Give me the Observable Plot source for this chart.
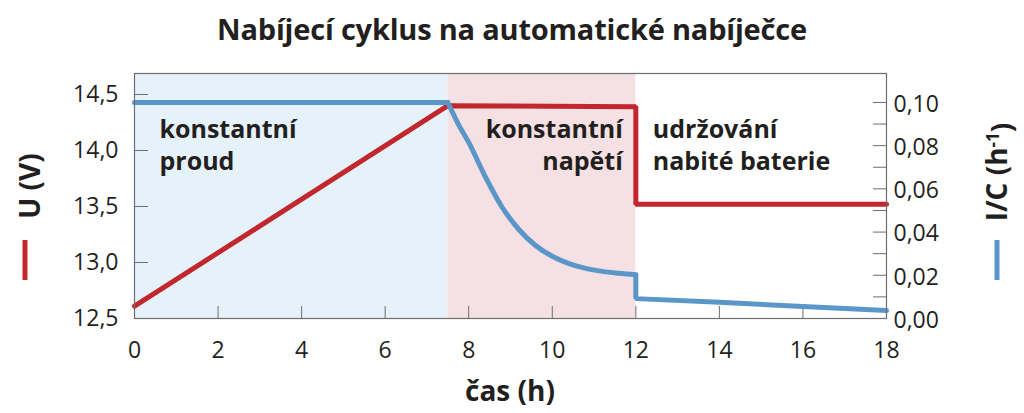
<!DOCTYPE html>
<html><head><meta charset="utf-8">
<script src="https://cdn.jsdelivr.net/npm/d3@7"></script>
<script src="https://cdn.jsdelivr.net/npm/@observablehq/plot@0.6"></script>
<style>
body{margin:0;background:#fff;font-family:"Open Sans",sans-serif;}
#title{height:60px;line-height:58px;text-align:center;font-weight:700;font-size:29px;color:#231f20;letter-spacing:-0.2px;}
#chart svg{display:block;}
</style></head><body>
<div id="title">Nabíjecí cyklus na automatické nabíječce</div>
<div id="chart"></div>
<script>
// Voltage U (V) over time
const hoursU = [0, 7.5, 12, 12, 18];
const voltage = [12.61, 14.40, 14.39, 13.52, 13.52];
// Relative current I/C (1/h) over time
const hoursI = [0, 7.5, 7.75, 8.0, 8.4, 8.8, 9.2, 9.6, 10.0, 10.4, 10.8, 11.2, 11.6, 12.0, 12.0, 14, 16, 18];
const current = [0.100, 0.100, 0.090, 0.0815, 0.0655, 0.0515, 0.0412, 0.0338, 0.0288, 0.0254, 0.0232, 0.0218, 0.0209, 0.0202, 0.0092, 0.0075, 0.0056, 0.0037];
// Phases
const phaseStart = [0, 7.5, 12];
const phaseEnd = [7.5, 12, 18];
const phaseLabel = ["konstantní\nproud", "konstantní\nnapětí", "udržování\nnabité baterie"];
// Ticks
const xTicks = [0, 2, 4, 6, 8, 10, 12, 14, 16, 18];
const uTicks = [12.5, 13.0, 13.5, 14.0, 14.5];
const icTicks = [0, 0.02, 0.04, 0.06, 0.08, 0.10];
const icMinorTicks = [0.01, 0.02, 0.03, 0.04, 0.05, 0.06, 0.07, 0.08, 0.09, 0.10];

const uDomain = [12.5, 14.6875];
const icDomain = [0, 0.1134];
const toV = d3.scaleLinear(icDomain, uDomain);

const phaseFill = ["#e6f2fa", "#f5e1e3", "#ffffff"];
const red = "#c1272d", blue = "#5b96c9", axisGray = "#6d6e71", ink = "#231f20";
const idx = a => a.map((_, i) => i);
const iI = idx(hoursI);
const decayEnd = hoursI.indexOf(12);   // last point before the step down
const flatEnd = hoursI.indexOf(7.5);

const blueLine = (sel, curve) => Plot.line(sel, {x: i => hoursI[i], y: i => toV(current[i]), stroke: blue, strokeWidth: 5, strokeLinejoin: "miter", strokeLinecap: "round", curve});
const labelOpts = {frameAnchor: "top", lineAnchor: "top", dy: 41, fontSize: 25, fontWeight: 700, lineHeight: 1.3, fill: ink};

const chart = Plot.plot({
  width: 1024, height: 353,
  marginTop: 13, marginBottom: 95, marginLeft: 134, marginRight: 138,
  style: {fontFamily: '"Open Sans", sans-serif', fontSize: "23px", color: ink, background: "transparent"},
  x: {domain: [0, 18], label: null},
  y: {domain: uDomain, label: null},
  marks: [
    Plot.rect([0, 1], {x1: i => phaseStart[i], x2: i => phaseEnd[i], fill: i => phaseFill[i]}),
    Plot.axisX(xTicks, {anchor: "top", frameAnchor: "bottom", tickSize: 13, fill: "none", stroke: axisGray, label: null}),
    Plot.axisX(xTicks, {anchor: "bottom", tickSize: 0, tickPadding: 23, stroke: "none", label: null, fontSize: 23}),
    Plot.axisY(uTicks.slice(1), {anchor: "right", frameAnchor: "left", tickSize: 13, fill: "none", stroke: axisGray, label: null}),
    Plot.axisY(uTicks, {anchor: "left", tickSize: 0, tickPadding: 16, stroke: "none", label: null, fontSize: 23,
      tickFormat: d => d.toFixed(1).replace(".", ",")}),
    Plot.axisY(icMinorTicks.map(toV), {anchor: "left", frameAnchor: "right", tickSize: 13, fill: "none", stroke: axisGray, label: null}),
    Plot.axisY(icTicks.map(toV), {anchor: "right", tickSize: 0, tickPadding: 7, stroke: "none", label: null, fontSize: 23, dy: 2,
      tickFormat: v => toV.invert(v).toFixed(2).replace(".", ",")}),
    Plot.line(idx(hoursU), {x: i => hoursU[i], y: i => voltage[i], stroke: red, strokeWidth: 5, strokeLinejoin: "miter"}),
    blueLine(iI.slice(0, flatEnd + 1), "linear"),
    blueLine(iI.slice(flatEnd, decayEnd + 1), "monotone-x"),
    blueLine(iI.slice(decayEnd), "linear"),
    Plot.frame({stroke: axisGray, strokeWidth: 1.2}),
    Plot.text([0], {...labelOpts, x: () => phaseStart[0], text: () => phaseLabel[0], textAnchor: "start", dx: 25}),
    Plot.text([1], {...labelOpts, x: () => phaseEnd[1], text: () => phaseLabel[1], textAnchor: "end", dx: -13}),
    Plot.text([2], {...labelOpts, x: () => phaseStart[2], text: () => phaseLabel[2], textAnchor: "start", dx: 17})
  ]
});
document.getElementById("chart").appendChild(chart);

// Axis titles and legend swatches
const svg = d3.select(chart);
svg.append("text").attr("transform", "translate(30,126) rotate(-90)")
  .attr("text-anchor", "middle").attr("dy", "0.35em")
  .style("font-family", '"Open Sans", sans-serif').style("font-size", "28px").style("font-weight", 700).attr("fill", ink)
  .text("U (V)");
svg.append("line").attr("x1", 25).attr("x2", 25).attr("y1", 180).attr("y2", 220).attr("stroke", red).attr("stroke-width", 5);

const rt = svg.append("text").attr("transform", "translate(997,112) rotate(-90)")
  .attr("text-anchor", "middle").attr("dy", "0.35em")
  .style("font-family", '"Open Sans", sans-serif').style("font-size", "28px").style("font-weight", 700).attr("fill", ink);
rt.append("tspan").text("I/C (h");
rt.append("tspan").attr("dy", "-0.45em").style("font-size", "17px").text("-1");
rt.append("tspan").attr("dy", "0.45em").text(")");
svg.append("line").attr("x1", 997).attr("x2", 997).attr("y1", 180).attr("y2", 220).attr("stroke", blue).attr("stroke-width", 5);

// x axis title
svg.append("text").attr("x", (134 + 886) / 2).attr("y", 331)
  .attr("text-anchor", "middle").attr("dy", "0.35em")
  .style("font-family", '"Open Sans", sans-serif').style("font-size", "28px").style("font-weight", 700).attr("fill", ink)
  .text("čas (h)");
</script>
</body></html>
